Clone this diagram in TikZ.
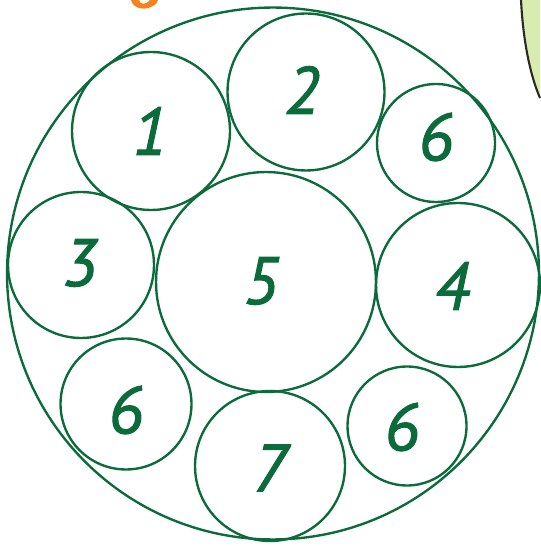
\documentclass[tikz,border=0pt]{standalone}
\usepackage{fontspec}
\setmainfont{PT Sans}
\newfontfamily\cellfont{PT Sans}[ItalicFeatures={FakeBold=1.6}]
\usepackage{xcolor}
\usepackage{tikz}
\definecolor{CellGreen}{HTML}{0B6B3A}
\definecolor{PeelOrange}{HTML}{F5821F}
\definecolor{LeafLight}{HTML}{D8EBB0}
\definecolor{LeafDark}{HTML}{2A2A22}

\begin{document}
\begin{tikzpicture}[
  x=0.02cm, y=-0.02cm,
  ring/.style={circle, draw=CellGreen, line width=1.35pt, inner sep=0pt},
  num/.style={inner sep=0pt, text=CellGreen,
              font=\cellfont\fontsize{38}{38}\selectfont\itshape}
]
\useasboundingbox (0,0) rectangle (540,546);

% cut-off bits of the page around the picture
\fill[PeelOrange] (131,0) .. controls (133,9) and (146,12) .. (156,4)
  -- (158,0) -- (150,0) .. controls (146,5) and (140,5) .. (139,0) -- cycle;
\fill[LeafLight] (521,0) .. controls (523,40) and (530,75) .. (540,98) -- (540,0) -- cycle;
\draw[LeafDark, line width=1.2pt] (521,0) .. controls (523,40) and (530,75) .. (540,98);

% outer ring
\node[ring, minimum size=10.64cm] (outer) at (273,273.5) {};

% inner cells
\node[ring, minimum size=3.16cm] (one)   at (151,131) {};
\node[ring, minimum size=3.14cm] (two)   at (306,92)  {};
\node[ring, minimum size=2.36cm] (sixA)  at (436,143) {};
\node[ring, minimum size=2.92cm] (three) at (81,265)  {};
\node[ring, minimum size=4.40cm] (five)  at (266,282) {};
\node[ring, minimum size=3.28cm] (four)  at (458,285) {};
\node[ring, minimum size=2.62cm] (sixB)  at (126,404) {};
\node[ring, minimum size=3.00cm] (seven) at (270,466) {};
\node[ring, minimum size=2.38cm] (sixC)  at (407,426) {};

% numbers
\node[num] (oneN)   at (150,131) {1};
\node[num] (twoN)   at (302,90)  {2};
\node[num] (sixAN)  at (436,137) {6};
\node[num] (threeN) at (80,263)  {3};
\node[num] (fiveN)  at (261,281) {5};
\node[num] (fourN)  at (452,286) {4};
\node[num] (sixBN)  at (126,410) {6};
\node[num] (sevenN) at (270,468) {7};
\node[num] (sixCN)  at (402,427) {6};

\end{tikzpicture}
\end{document}
